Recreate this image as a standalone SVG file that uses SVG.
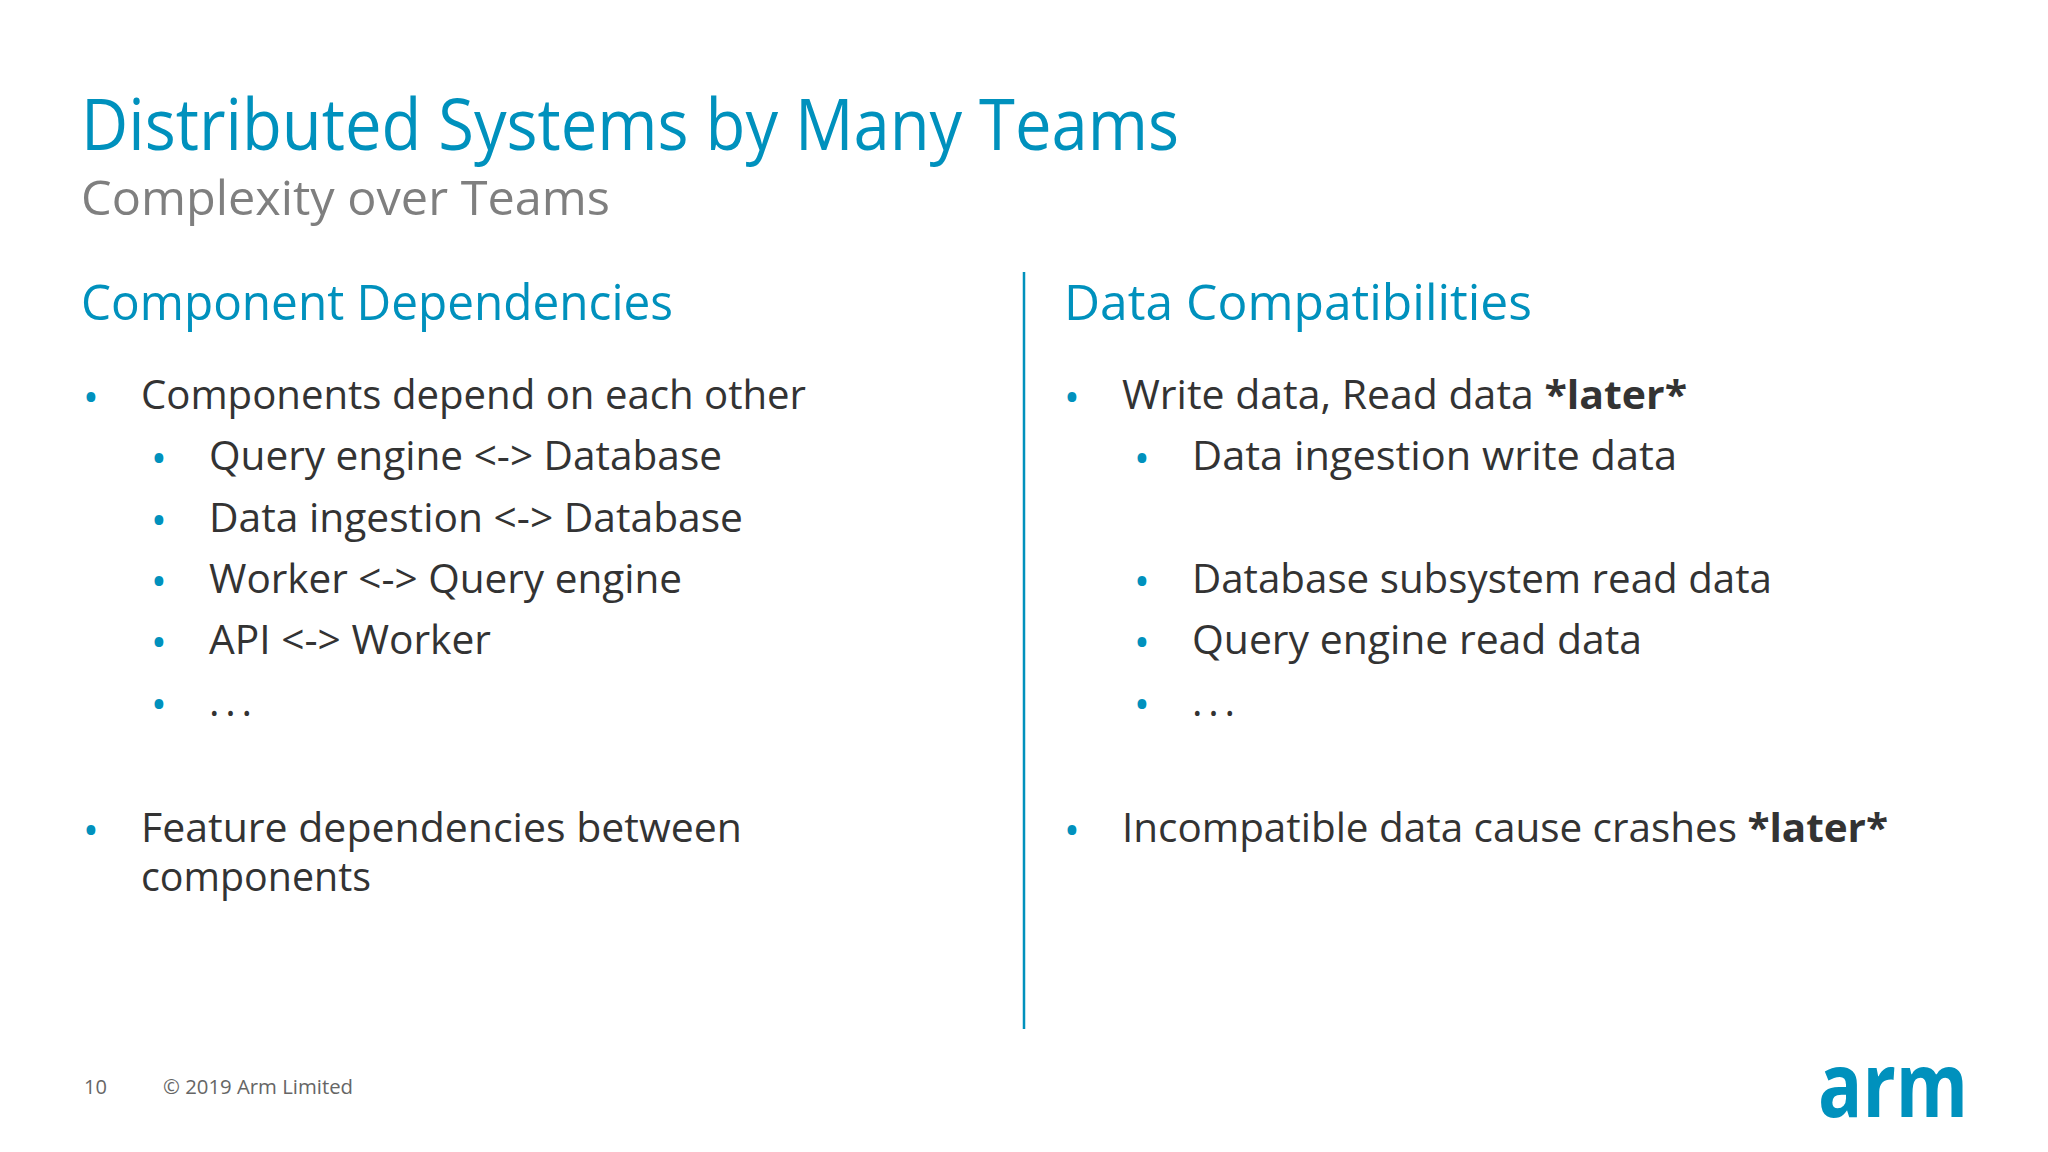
<svg xmlns="http://www.w3.org/2000/svg" width="2048" height="1152" viewBox="0 0 2048 1152">
<style>
text{font-family:"Open Sans","Noto Sans",sans-serif}
.t{fill:#0091bd}
.b{fill:#333;font-size:40px}
.d{fill:#0091bd;font-size:42px}
.h{fill:#0091bd;font-size:50px}
</style>
<rect width="2048" height="1152" fill="#fff"/>
<g id="title"><text class="t" x="81" y="150" font-size="72" textLength="1098" lengthAdjust="spacingAndGlyphs">Distributed Systems by Many Teams</text>
<text x="81" y="215" font-size="48" fill="#7f7f7f" textLength="529" lengthAdjust="spacingAndGlyphs">Complexity over Teams</text></g>
<g id="left">
<text class="h" x="81" y="320" textLength="592" lengthAdjust="spacingAndGlyphs">Component Dependencies</text>
<text class="d" x="83" y="412">•</text><text class="b" x="141" y="409" textLength="665" lengthAdjust="spacingAndGlyphs">Components depend on each other</text>
<text class="d" x="151" y="473">•</text><text class="b" x="209" y="470" textLength="513" lengthAdjust="spacingAndGlyphs">Query engine &lt;-&gt; Database</text>
<text class="d" x="151" y="535">•</text><text class="b" x="209" y="532" textLength="534" lengthAdjust="spacingAndGlyphs">Data ingestion &lt;-&gt; Database</text>
<text class="d" x="151" y="596">•</text><text class="b" x="209" y="593" textLength="473" lengthAdjust="spacingAndGlyphs">Worker &lt;-&gt; Query engine</text>
<text class="d" x="151" y="657">•</text><text class="b" x="209" y="654" textLength="282" lengthAdjust="spacingAndGlyphs">API &lt;-&gt; Worker</text>
<text class="d" x="151" y="719">•</text><text class="b" x="209" y="716" textLength="43" lengthAdjust="spacing">...</text>
<text class="d" x="83" y="845">•</text><text class="b" x="141" y="842" textLength="601" lengthAdjust="spacingAndGlyphs">Feature dependencies between</text>
<text class="b" x="141" y="891" textLength="230" lengthAdjust="spacingAndGlyphs">components</text>
</g>
<line x1="1024" y1="272" x2="1024" y2="1029" stroke="#0091bd" stroke-width="2.5"/>
<g id="right">
<text class="h" x="1064" y="320" textLength="468" lengthAdjust="spacingAndGlyphs">Data Compatibilities</text>
<text class="d" x="1064" y="412">•</text><text class="b" x="1122" y="409" textLength="565" lengthAdjust="spacingAndGlyphs">Write data, Read data <tspan font-weight="bold">*later*</tspan></text>
<text class="d" x="1134" y="473">•</text><text class="b" x="1192" y="470" textLength="485" lengthAdjust="spacingAndGlyphs">Data ingestion write data</text>
<text class="d" x="1134" y="596">•</text><text class="b" x="1192" y="593" textLength="580" lengthAdjust="spacingAndGlyphs">Database subsystem read data</text>
<text class="d" x="1134" y="657">•</text><text class="b" x="1192" y="654" textLength="450" lengthAdjust="spacingAndGlyphs">Query engine read data</text>
<text class="d" x="1134" y="719">•</text><text class="b" x="1192" y="716" textLength="43" lengthAdjust="spacing">...</text>
<text class="d" x="1064" y="845">•</text><text class="b" x="1122" y="842" textLength="766" lengthAdjust="spacingAndGlyphs">Incompatible data cause crashes <tspan font-weight="bold">*later*</tspan></text>
</g>
<g id="footer">
<text x="84" y="1094" font-size="20" fill="#666">10</text>
<text x="163" y="1094" font-size="20" fill="#666" textLength="190" lengthAdjust="spacingAndGlyphs">© 2019 Arm Limited</text>
<text x="1818" y="1117" font-size="90" font-weight="bold" fill="#0091bd" font-family="Lato,sans-serif" textLength="150" lengthAdjust="spacingAndGlyphs">arm</text>
</g>
</svg>
